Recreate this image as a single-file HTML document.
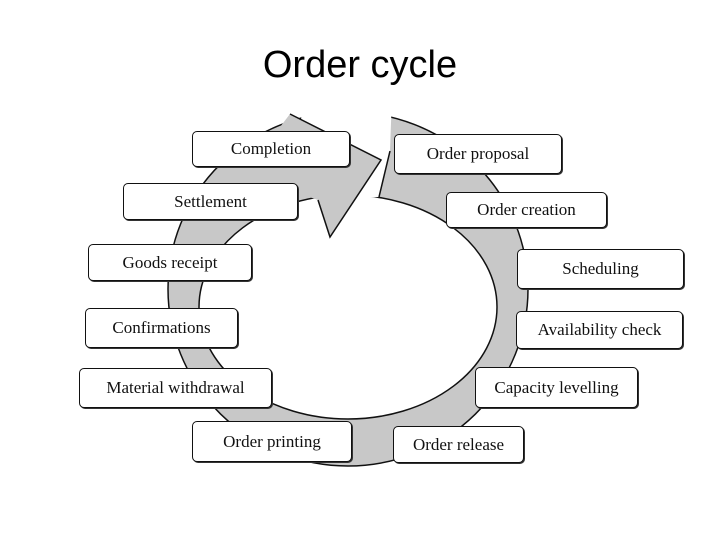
<!DOCTYPE html>
<html><head><style>
body{margin:0;background:#fff;width:720px;height:540px;overflow:hidden;position:relative}
.t{position:absolute;left:0;width:720px;top:44px;text-align:center;font:38px "Liberation Sans",sans-serif;color:#000}
.b{position:absolute;border:1.5px solid #111;border-radius:5px;background:#fff;box-sizing:border-box;display:flex;align-items:center;justify-content:center;font:17px "Liberation Serif",serif;color:#111;box-shadow:1px 1px 0 #333}
</style></head><body>
<svg width="720" height="540" style="position:absolute;left:0;top:0">
<path fill-rule="evenodd" fill="#c8c8c8" stroke="#111" stroke-width="1.5"
d="M168,289 a180,177 0 1,0 360,0 a180,177 0 1,0 -360,0 Z M199,307 a149,112 0 1,0 298,0 a149,112 0 1,0 -298,0 Z"/>
<polygon points="305,95 392,95 390,151 379,197 318,200 296,150" fill="#fff"/>
<line x1="390" y1="151" x2="379" y2="197" stroke="#111" stroke-width="1.5"/>
<polygon points="290,114 381,160 330,237 318,200 260,180 270,140" fill="#c8c8c8"/>
<polyline points="290,114 381,160 330,237 318,200" fill="none" stroke="#111" stroke-width="1.5"/>
</svg>
<div class="t">Order cycle</div>
<div class="b" style="left:192px;top:131px;width:158px;height:36px">Completion</div>
<div class="b" style="left:394px;top:134px;width:168px;height:40px">Order proposal</div>
<div class="b" style="left:123px;top:183px;width:175px;height:37px">Settlement</div>
<div class="b" style="left:446px;top:192px;width:161px;height:36px">Order creation</div>
<div class="b" style="left:88px;top:244px;width:164px;height:37px">Goods receipt</div>
<div class="b" style="left:517px;top:249px;width:167px;height:40px">Scheduling</div>
<div class="b" style="left:85px;top:308px;width:153px;height:40px">Confirmations</div>
<div class="b" style="left:516px;top:311px;width:167px;height:38px">Availability check</div>
<div class="b" style="left:79px;top:368px;width:193px;height:40px">Material withdrawal</div>
<div class="b" style="left:475px;top:367px;width:163px;height:41px">Capacity levelling</div>
<div class="b" style="left:192px;top:421px;width:160px;height:41px">Order printing</div>
<div class="b" style="left:393px;top:426px;width:131px;height:37px">Order release</div>
</body></html>
